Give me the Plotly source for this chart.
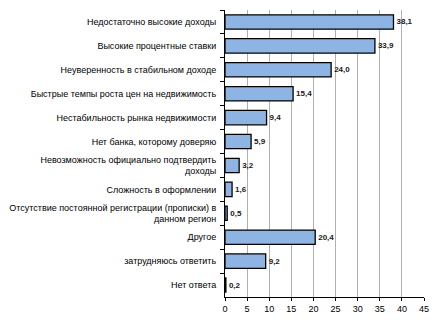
import plotly.graph_objects as go

categories = [
    "Недостаточно высокие доходы",
    "Высокие процентные ставки",
    "Неуверенность в стабильном доходе",
    "Быстрые темпы роста цен на недвижимость",
    "Нестабильность рынка недвижимости",
    "Нет банка, которому доверяю",
    "Невозможность официально подтвердить<br>доходы",
    "Сложность в оформлении",
    "Отсутствие постоянной регистрации (прописки) в<br>данном регион",
    "Другое",
    "затрудняюсь ответить",
    "Нет ответа",
]
values = [38.1, 33.9, 24.0, 15.4, 9.4, 5.9, 3.2, 1.6, 0.5, 20.4, 9.2, 0.2]
x_ticks = [0, 5, 10, 15, 20, 25, 30, 35, 40, 45]

font = "Liberation Sans, Arial, sans-serif"

fig = go.Figure()
fig.add_trace(go.Bar(
    y=categories,
    x=values,
    orientation="h",
    width=0.6,
    marker=dict(color="#8db4e3", line=dict(color="#000000", width=1.3)),
    texttemplate="<b>%{x:.1f}</b>",
    textposition="outside",
    textfont=dict(family=font, size=8, color="#1a1a1a"),
    cliponaxis=False,
))

fig.update_layout(
    width=444, height=329,
    margin=dict(l=225, r=20, t=10, b=32),
    paper_bgcolor="white",
    plot_bgcolor="white",
    separators=", ",
    showlegend=False,
    font=dict(family=font, size=9, color="#000000"),
    bargap=0.4,
)
fig.update_xaxes(
    range=[0, 45],
    tickvals=x_ticks,
    showgrid=True, gridcolor="#b0b0b0", gridwidth=1,
    showline=True, linecolor="#000000", linewidth=1,
    ticks="outside", ticklen=3, tickcolor="#000000",
    tickfont=dict(family=font, size=9, color="#000000"),
    zeroline=False,
    fixedrange=True,
)
fig.update_yaxes(
    autorange="reversed",
    showline=True, linecolor="#000000", linewidth=1,
    ticks="outside", ticklen=4, tickcolor="#000000",
    tickson="boundaries",
    tickfont=dict(family=font, size=9, color="#000000"),
    ticklabelstandoff=6,
    fixedrange=True,
)

fig.write_html("out.html")
